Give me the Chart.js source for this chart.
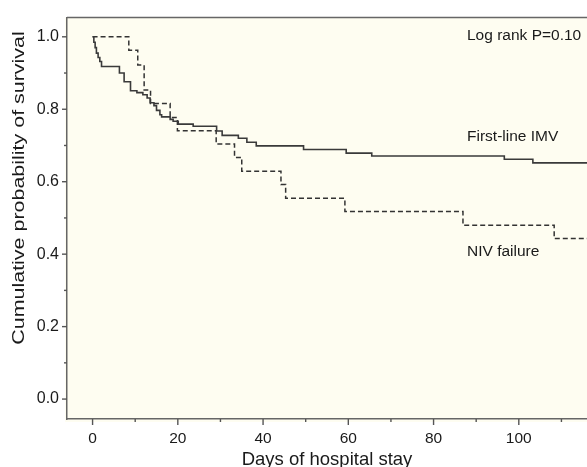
<!DOCTYPE html>
<html><head><meta charset="utf-8">
<script src="https://cdn.jsdelivr.net/npm/chart.js@4.4.0/dist/chart.umd.min.js"></script>
<style>html,body{margin:0;padding:0;background:#fff;overflow:hidden}canvas{display:block}</style>
</head><body>
<canvas id="c" width="587" height="467"></canvas>
<script>
// Kaplan-Meier step data (day of event, survival after the step)
const imvDays = [0,0.3,0.6,0.9,1.3,1.7,2.1,6.3,7.4,8.9,10.4,11.8,12.8,13.5,14.4,15.0,15.8,16.2,18.2,18.9,20.1,23.6,29.1,30.4,34.2,36.2,38.4,49.5,59.5,65.5,96.6,103.3,116];
const imvSurv = [1.0,0.985,0.97,0.955,0.943,0.932,0.918,0.90,0.876,0.851,0.846,0.84,0.831,0.818,0.81,0.797,0.785,0.779,0.772,0.767,0.759,0.753,0.74,0.728,0.72,0.709,0.699,0.689,0.679,0.671,0.662,0.652,0.652];
const nivDays = [0,8.5,10.6,12.1,13.6,18.2,19.9,29.0,33.3,35.0,44.2,45.3,59.2,86.9,108.3,116];
const nivSurv = [1.0,0.963,0.922,0.853,0.816,0.777,0.741,0.704,0.667,0.629,0.592,0.554,0.518,0.480,0.443,0.443];
const seriesNames = ['First-line IMV','NIV failure'];
const xTicks = [0,20,40,60,80,100];
const xMinorTicks = [10,30,50,70,90,110];
const yTicks = [0.0,0.2,0.4,0.6,0.8,1.0];
const yMinorTicks = [0.1,0.3,0.5,0.7,0.9];
const xTitle = 'Days of hospital stay';
const yTitle = 'Cumulative probability of survival';
const statText = 'Log rank P=0.10';

const FONT = '"Liberation Sans", Arial, Helvetica, sans-serif';
const toPts = (xs, ys) => xs.map((x, i) => ({x, y: ys[i]}));

const decor = {
  id: 'decor',
  beforeDraw(chart) {
    const {ctx, chartArea: a} = chart;
    ctx.save();
    ctx.fillStyle = '#fefdf1';
    ctx.fillRect(a.left - 2, a.top, a.right - a.left + 2, a.bottom - a.top + 3);
    ctx.restore();
  },
  afterDraw(chart) {
    const {ctx, chartArea: a, scales: {x, y}} = chart;
    ctx.save();
    ctx.strokeStyle = '#666';
    ctx.lineWidth = 1.5;
    ctx.beginPath(); ctx.moveTo(a.left, a.top); ctx.lineTo(a.right, a.top); ctx.stroke();
    ctx.strokeStyle = '#555';
    ctx.lineWidth = 1.4;
    const tx = (v, len) => { const p = x.getPixelForValue(v); ctx.beginPath(); ctx.moveTo(p, a.bottom); ctx.lineTo(p, a.bottom + len); ctx.stroke(); };
    xTicks.forEach(v => tx(v, 6));
    xMinorTicks.forEach(v => tx(v, 3));
    const ty = (v, len) => { const p = y.getPixelForValue(v); ctx.beginPath(); ctx.moveTo(a.left, p); ctx.lineTo(a.left - len, p); ctx.stroke(); };
    yTicks.forEach(v => ty(v, 5));
    yMinorTicks.forEach(v => ty(v, 3));
    ctx.fillStyle = '#1a1a1a';
    ctx.font = '15.5px ' + FONT;
    ctx.textAlign = 'left';
    ctx.textBaseline = 'alphabetic';
    ctx.fillText(statText, 467, 40);
    ctx.fillText(seriesNames[0], 467, 141);
    ctx.fillText(seriesNames[1], 467, 256);
    ctx.save();
    ctx.translate(19, 188);
    ctx.rotate(-Math.PI / 2);
    ctx.scale(1.3, 1);
    ctx.font = '16.5px ' + FONT;
    ctx.textAlign = 'center';
    ctx.textBaseline = 'middle';
    ctx.fillText(yTitle, 0, 0);
    ctx.restore();
    ctx.restore();
  }
};

new Chart(document.getElementById('c'), {
  type: 'line',
  data: {
    datasets: [
      { label: seriesNames[0], data: toPts(imvDays, imvSurv), stepped: 'before', borderColor: '#3a3a3a', borderWidth: 1.6, pointRadius: 0, fill: false },
      { label: seriesNames[1], data: toPts(nivDays, nivSurv), stepped: 'before', borderColor: '#333', borderWidth: 1.5, borderDash: [5, 3], pointRadius: 0, fill: false }
    ]
  },
  options: {
    responsive: false,
    animation: false,
    layout: { padding: { top: 14, right: 0, left: 0, bottom: 0 } },
    plugins: { legend: { display: false }, tooltip: { enabled: false } },
    scales: {
      x: {
        type: 'linear', min: -6, max: 116,
        afterBuildTicks: s => { s.ticks = xTicks.map(v => ({value: v})); },
        afterFit: s => { s.height = 48; },
        grid: { display: false, drawTicks: false },
        border: { display: true, color: '#666', width: 1.5 },
        ticks: { color: '#1a1a1a', font: { family: FONT, size: 15.5 }, padding: 10, maxRotation: 0, autoSkip: false, callback: v => String(v) },
        title: { display: true, text: xTitle, color: '#1a1a1a', font: { family: FONT, size: 18.5, lineHeight: 0.8 }, padding: { top: 0, bottom: 0 } }
      },
      y: {
        type: 'linear', min: -0.055, max: 1.053,
        afterBuildTicks: s => { s.ticks = yTicks.map(v => ({value: v})); },
        afterFit: s => { s.width = 67; },
        grid: { display: false, drawTicks: false },
        border: { display: true, color: '#666', width: 1.5 },
        ticks: { color: '#1a1a1a', font: { family: FONT, size: 16 }, padding: 8, autoSkip: false, callback: v => Number(v).toFixed(1) }
      }
    }
  },
  plugins: [decor]
});
</script>
</body></html>
